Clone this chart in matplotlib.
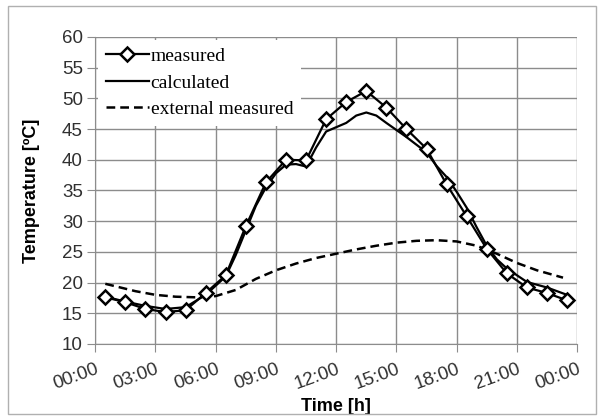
import matplotlib.pyplot as plt
from matplotlib.patches import Rectangle

# time in hours
t_meas = [0.5, 1.5, 2.5, 3.5, 4.5, 5.5, 6.5, 7.5, 8.5, 9.5, 10.5, 11.5,
          12.5, 13.5, 14.5, 15.5, 16.5, 17.5, 18.5, 19.5, 20.5, 21.5, 22.5, 23.5]
measured = [17.6, 16.8, 15.7, 15.2, 15.5, 18.3, 21.2, 29.2, 36.3, 40.0, 39.9, 46.6,
            49.4, 51.2, 48.5, 45.0, 41.8, 36.0, 30.8, 25.5, 21.5, 19.2, 18.3, 17.1]

t_calc = [0.5, 1.5, 2.5, 3.5, 4.5, 5.5, 6.5, 7.0, 7.5, 8.0, 8.5, 9.0, 9.5, 10.0,
          10.5, 11.0, 11.5, 12.0, 12.5, 13.0, 13.5, 14.0, 14.5, 15.5, 16.5,
          17.0, 17.5, 18.0, 18.5, 19.0, 19.5, 20.0, 20.5, 21.5, 22.5, 23.5]
calculated = [17.7, 16.9, 16.2, 15.7, 16.0, 18.0, 21.0, 24.5, 28.5, 32.5, 35.5, 37.8, 39.2, 39.3,
              38.9, 42.0, 44.6, 45.3, 46.0, 47.2, 47.7, 47.2, 46.0, 43.7, 41.2,
              39.0, 37.2, 34.8, 32.2, 29.0, 26.0, 23.8, 22.3, 20.1, 19.2, 18.0]

t_ext = [0.5, 1, 2, 3, 4, 5, 6, 7, 8, 9, 10, 11, 12, 13, 14, 15, 16, 17, 18,
         19, 20, 21, 22, 23.3]
external = [19.8, 19.4, 18.6, 18.0, 17.7, 17.6, 17.8, 18.8, 20.6, 22.0, 23.1, 24.0, 24.7,
            25.4, 26.0, 26.5, 26.8, 26.9, 26.7, 26.0, 24.7, 23.2, 22.0, 20.8]

xticks = [0, 3, 6, 9, 12, 15, 18, 21, 24]
xlabels = ['00:00', '03:00', '06:00', '09:00', '12:00', '15:00', '18:00', '21:00', '00:00']

fig = plt.figure(figsize=(6.03, 4.2), dpi=100)
ax = fig.add_axes([0.158, 0.181, 0.799, 0.731])

ax.plot(t_meas, measured, color='black', lw=1.6, marker='D', ms=7, mfc='white',
        mec='black', mew=1.8, label='measured', zorder=4)
ax.plot(t_calc, calculated, color='black', lw=1.6, label='calculated', zorder=3)
ax.plot(t_ext, external, color='black', lw=1.8, ls=(0, (3.5, 2)), label='external measured', zorder=3)

ax.set_xlim(0, 24)
ax.set_ylim(10, 60)
ax.set_yticks(range(10, 61, 5))
ax.set_xticks(xticks)
ax.set_xticklabels(xlabels, rotation=20, ha='right', va='top', rotation_mode='anchor',
                   fontfamily='Liberation Sans', fontsize=13.5, color='#303030')
for lbl in ax.get_yticklabels():
    lbl.set_fontfamily('Liberation Sans')
    lbl.set_fontsize(13.5)
    lbl.set_color('#303030')
ax.grid(True, color='#8c8c8c', lw=1)
ax.set_axisbelow(True)
for s in ['top', 'right']:
    ax.spines[s].set_visible(False)
for s in ['left', 'bottom']:
    ax.spines[s].set_color('#8c8c8c')
ax.tick_params(color='#8c8c8c', length=6)
ax.tick_params(axis='x', pad=6)
ax.tick_params(axis='y', pad=3)

ax.set_xlabel('Time [h]', fontfamily='Liberation Sans', fontweight='bold', fontsize=13, labelpad=4)
ax.set_ylabel('Temperature [ºC]', fontfamily='Liberation Sans', fontweight='bold', fontsize=13, labelpad=16)

leg = ax.legend(loc='upper left', bbox_to_anchor=(0, 1), borderaxespad=0.15,
                prop={'family': 'Liberation Serif', 'size': 14}, frameon=True,
                fancybox=False, edgecolor='none', facecolor='white', framealpha=1,
                handlelength=2.2, handletextpad=0.1, labelspacing=0.45)

fig.patches.append(Rectangle((0.013, 0.015), 0.976, 0.97, transform=fig.transFigure,
                             fill=False, edgecolor='#b0b0b0', lw=1))

plt.savefig('out.png', dpi=100)
